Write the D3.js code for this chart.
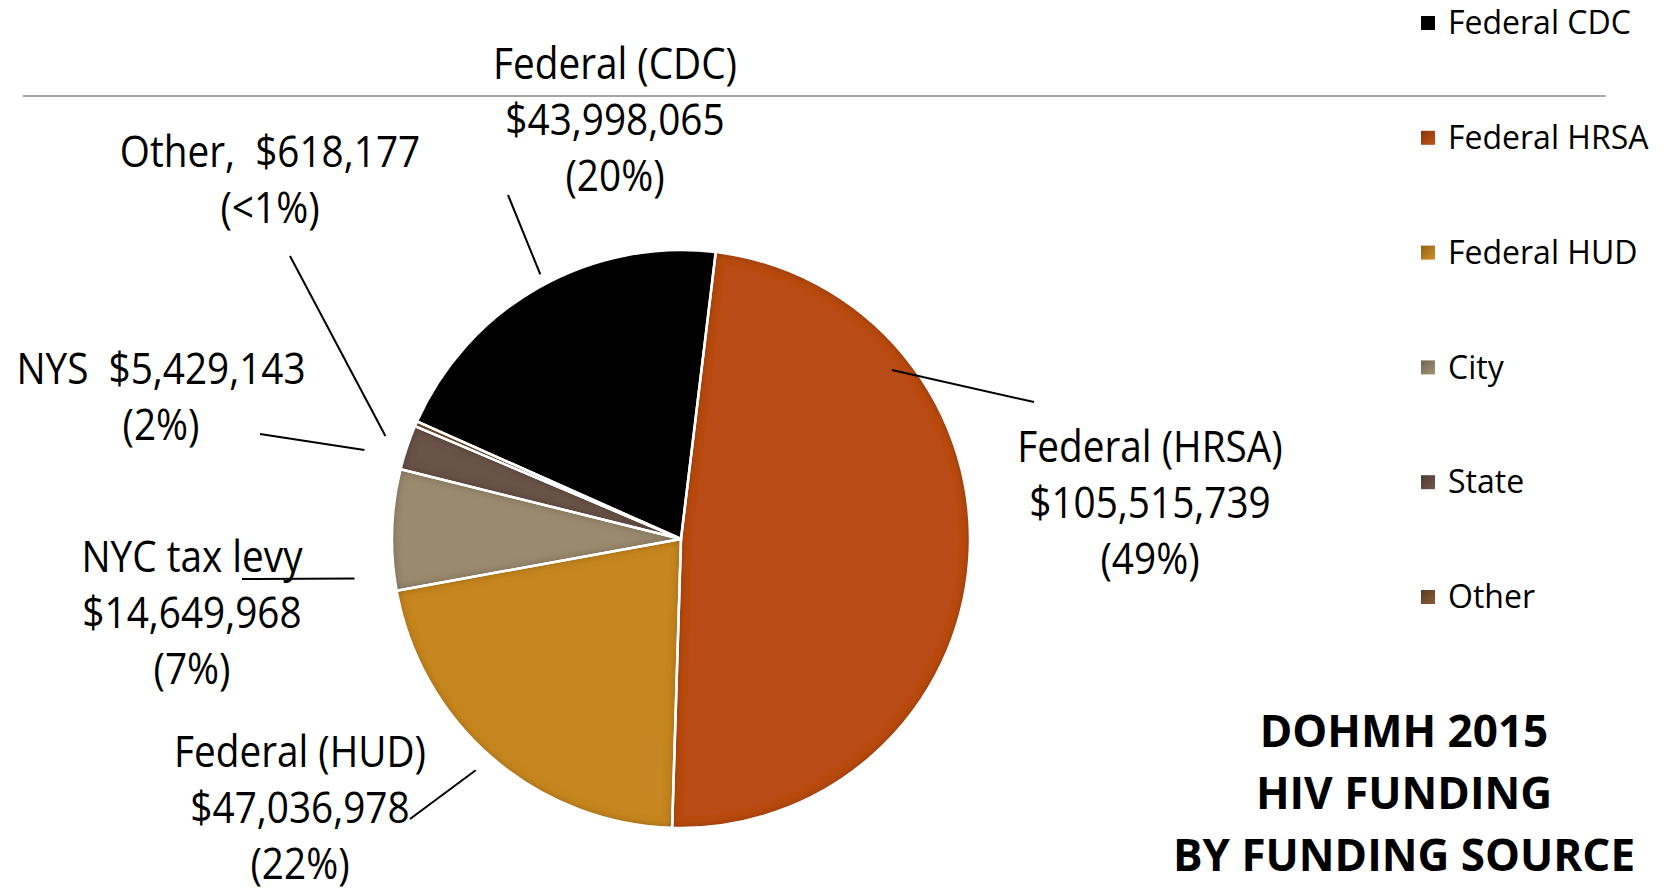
<!DOCTYPE html>
<html>
  <head>
    <script src="https://cdnjs.cloudflare.com/ajax/libs/d3/7.8.5/d3.min.js"></script>
    <style>
      body { margin: 0; background: #fff; }
      text { font-family: "Open Sans", "Noto Sans", sans-serif; fill: #000; }
    </style>
  </head>
  <body>
    <div id="vis"></div>
    <script type="text/javascript">

        // funding by source, in legend order (clockwise from the CDC slice)
        const categories = ["Federal CDC", "Federal HRSA", "Federal HUD", "City", "State", "Other"];
        const amounts = [43998065, 105515739, 47036978, 14649968, 5429143, 618177];
        const labelNames = ["Federal (CDC)", "Federal (HRSA)", "Federal (HUD)", "NYC tax levy", "NYS", "Other,"];
        const sliceColors = ["#000000", "#b94b14", "#c68621", "#9a8a6e", "#6b5247", "#7e5631"];
        const titleLines = ["DOHMH 2015", "HIV FUNDING", "BY FUNDING SOURCE"];

        const W = 1668, H = 889;
        const cx = 681, cy = 539, R = 289;
        const lineGap = 56;

        // where each data label sits and how its leader line runs
        // (pie side given as angle in degrees + radius factor)
        const labelLayout = [
            {x: 615,  y: 64,  inline: false, ang: 332,   rf: 1.037, lx: 508,  ly: 195},
            {x: 1150, y: 447, inline: false, ang: 51.3,  rf: 0.935, lx: 1034, ly: 402},
            {x: 300,  y: 752, inline: false, ang: 221.6, rf: 1.07,  lx: 410,  ly: 819},
            {x: 192,  y: 557, inline: false, ang: 263.1, rf: 1.138, lx: 242,  ly: 579},
            {x: 161,  y: 369, inline: true,  ang: 285.7, rf: 1.138, lx: 260,  ly: 434},
            {x: 270,  y: 152, inline: true,  ang: 289.2, rf: 1.083, lx: 290,  ly: 256}
        ];

        const total = d3.sum(amounts);
        const money = d3.format("$,");
        const pctText = v => {
            const p = v / total * 100;
            return p < 1 ? "(<1%)" : "(" + Math.round(p) + "%)";
        };

        const svg = d3.select("#vis")
            .append("svg")
            .attr("width", W)
            .attr("height", H);

        const defs = svg.append("defs");

        // soft inner shadow like the office chart style
        const f = defs.append("filter").attr("id", "inner")
            .attr("x", "-20%").attr("y", "-20%").attr("width", "140%").attr("height", "140%");
        f.append("feComponentTransfer").attr("in", "SourceAlpha").attr("result", "inv")
            .append("feFuncA").attr("type", "table").attr("tableValues", "1 0");
        f.append("feGaussianBlur").attr("in", "inv").attr("stdDeviation", 5).attr("result", "blur");
        f.append("feFlood").attr("flood-color", "#000").attr("flood-opacity", 0.6).attr("result", "col");
        f.append("feComposite").attr("in", "col").attr("in2", "blur").attr("operator", "in").attr("result", "sh");
        f.append("feComposite").attr("in", "sh").attr("in2", "SourceAlpha").attr("operator", "in").attr("result", "ish");
        const fm = f.append("feMerge");
        fm.append("feMergeNode").attr("in", "SourceGraphic");
        fm.append("feMergeNode").attr("in", "ish");

        sliceColors.forEach((c, i) => {
            const g = defs.append("linearGradient").attr("id", "lg" + i)
                .attr("x1", "0").attr("y1", "0").attr("x2", "1").attr("y2", "1");
            g.append("stop").attr("offset", "0").attr("stop-color", d3.color(c).darker(0.9));
            g.append("stop").attr("offset", "1").attr("stop-color", d3.color(c).brighter(0.2));
        });

        // gray rule across the top
        svg.append("line")
            .attr("x1", 23).attr("x2", 1606)
            .attr("y1", 96).attr("y2", 96)
            .attr("stroke", "#a6a6a6").attr("stroke-width", 2);

        const start = -66 * Math.PI / 180;
        const pie = d3.pie().sort(null).value(d => d)
            .startAngle(start).endAngle(start + 2 * Math.PI);
        const arcs = pie(amounts);
        const arc = d3.arc().innerRadius(0).outerRadius(R);

        const pieG = svg.append("g").attr("transform", `translate(${cx},${cy})`);
        pieG.selectAll("path.slice")
            .data(arcs)
            .join("path")
            .attr("class", "slice")
            .attr("d", arc)
            .attr("fill", (d, i) => sliceColors[i])
            .attr("filter", "url(#inner)");
        pieG.selectAll("path.edge")
            .data(arcs)
            .join("path")
            .attr("class", "edge")
            .attr("d", arc)
            .attr("fill", "none")
            .attr("stroke", "#fff")
            .attr("stroke-width", 2.5)
            .attr("stroke-linejoin", "round");

        // leader lines
        svg.selectAll("line.leader")
            .data(labelLayout)
            .join("line")
            .attr("class", "leader")
            .attr("x1", d => cx + d3.pointRadial(d.ang * Math.PI / 180, R * d.rf)[0])
            .attr("y1", d => cy + d3.pointRadial(d.ang * Math.PI / 180, R * d.rf)[1])
            .attr("x2", d => d.lx)
            .attr("y2", d => d.ly)
            .attr("stroke", "#000")
            .attr("stroke-width", 2);

        // data labels
        labelLayout.forEach((L, i) => {
            const lines = L.inline
                ? [labelNames[i] + "\u00a0 " + money(amounts[i]), pctText(amounts[i])]
                : [labelNames[i], money(amounts[i]), pctText(amounts[i])];
            const g = svg.append("g")
                .attr("transform", `translate(${L.x},${L.y}) scale(0.88,1)`);
            g.selectAll("text")
                .data(lines)
                .join("text")
                .attr("y", (d, j) => j * lineGap)
                .attr("dy", "0.35em")
                .attr("text-anchor", "middle")
                .style("font-size", "44px")
                .text(d => d);
        });

        // legend
        const legend = svg.append("g").attr("transform", "translate(1421,23)");
        const row = legend.selectAll("g")
            .data(categories)
            .join("g")
            .attr("transform", (d, i) => `translate(0,${i * 114.8})`);
        row.append("rect")
            .attr("x", 0).attr("y", -7)
            .attr("width", 14).attr("height", 14)
            .attr("fill", (d, i) => i === 0 ? "#000" : `url(#lg${i})`);
        row.append("text")
            .attr("x", 27)
            .attr("dy", "0.35em")
            .style("font-size", "32px")
            .text(d => d);

        // title block
        svg.append("g")
            .selectAll("text")
            .data(titleLines)
            .join("text")
            .attr("x", 1404)
            .attr("y", (d, i) => 732 + i * 62)
            .attr("dy", "0.35em")
            .attr("text-anchor", "middle")
            .style("font-size", "44px")
            .style("font-weight", "bold")
            .text(d => d);

    </script>
  </body>
</html>
